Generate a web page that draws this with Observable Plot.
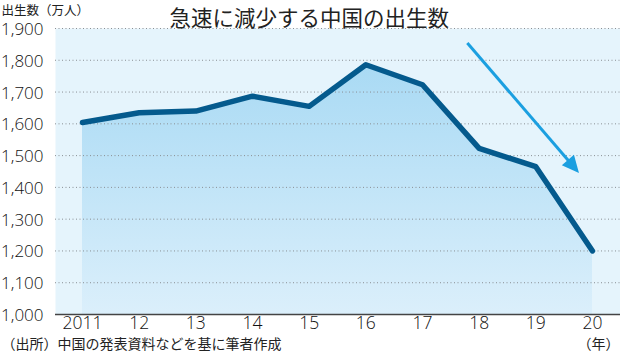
<!DOCTYPE html>
<html><head><meta charset="utf-8">
<script src="https://cdn.jsdelivr.net/npm/d3@7"></script>
<script src="https://cdn.jsdelivr.net/npm/@observablehq/plot@0.6"></script>
<style>body{margin:0;background:#fff}</style>
</head><body><div id="chart"></div>
<script>
const years = [2011, 2012, 2013, 2014, 2015, 2016, 2017, 2018, 2019, 2020];
const births = [1604, 1635, 1640, 1687, 1655, 1786, 1723, 1523, 1465, 1200];
const xTickLabels = ["2011", "12", "13", "14", "15", "16", "17", "18", "19", "20"];
const yTicks = [1000, 1100, 1200, 1300, 1400, 1500, 1600, 1700, 1800, 1900];
const arrowFrom = [2017.8, 1853];
const arrowTo = [2019.77, 1444];
const title = "急速に減少する中国の出生数";
const yUnit = "出生数（万人）";
const xUnit = "（年）";
const source = "（出所）中国の発表資料などを基に筆者作成";

const data = years.map((y, i) => ({year: y, value: births[i]}));
const jp = "'Noto Sans CJK JP', sans-serif";
const num = "'Open Sans', 'Liberation Sans', sans-serif";

function defsMark() {
  const svg = d3.create("svg:g");
  const g = svg.append("defs").append("linearGradient")
    .attr("id", "areaGrad").attr("x1", 0).attr("y1", 0).attr("x2", 0).attr("y2", 1);
  g.append("stop").attr("offset", "0%").attr("stop-color", "#a9daf4");
  g.append("stop").attr("offset", "100%").attr("stop-color", "#dbeffb");
  return svg.node();
}

function arrowMark(index, scales) {
  const x1 = scales.x(arrowFrom[0]), y1 = scales.y(arrowFrom[1]);
  const x2 = scales.x(arrowTo[0]), y2 = scales.y(arrowTo[1]);
  const dx = x2 - x1, dy = y2 - y1, L = Math.hypot(dx, dy);
  const ux = dx / L, uy = dy / L, px = -uy, py = ux;
  const hl = 17, hw = 8;
  const bx = x2 - ux * hl, by = y2 - uy * hl;
  const g = d3.create("svg:g");
  g.append("line").attr("x1", x1).attr("y1", y1).attr("x2", bx + ux * 2).attr("y2", by + uy * 2)
    .attr("stroke", "#1b9fe0").attr("stroke-width", 3);
  g.append("polygon")
    .attr("points", `${x2},${y2} ${bx + px * hw},${by + py * hw} ${bx - px * hw},${by - py * hw}`)
    .attr("fill", "#1b9fe0");
  return g.node();
}

const chart = Plot.plot({
  width: 620,
  height: 357,
  marginTop: 28,
  marginBottom: 43,
  marginLeft: 55,
  marginRight: 0,
  x: {domain: [2011, 2020], range: [82, 592], axis: null},
  y: {domain: [1000, 1900], axis: null},
  marks: [
    Plot.frame({fill: "#e5f4fc", stroke: null}),
    defsMark,
    Plot.areaY(data, {x: "year", y1: 1000, y2: "value", fill: "url(#areaGrad)"}),
    Plot.ruleY(yTicks.filter(d => d > 1000), {stroke: "#8a8f94", strokeWidth: 1, strokeDasharray: "1,2.5"}),
    Plot.ruleY([1000], {stroke: "#444", strokeWidth: 1.5}),
    Plot.line(data, {x: "year", y: "value", stroke: "#045a8d", strokeWidth: 5.5, strokeLinecap: "round", strokeLinejoin: "round"}),
    arrowMark,
    Plot.text(yTicks, {y: d => d, frameAnchor: "left", dx: -12, dy: 1, textAnchor: "end", text: d => d3.format(",")(d), fontSize: 17, fontWeight: 300, fontFamily: num, fill: "#111"}),
    Plot.text(years, {x: d => d, frameAnchor: "bottom", dy: 14, text: (d, i) => xTickLabels[i], fontSize: 17.5, fontWeight: 300, fontFamily: num, fill: "#111"}),
    Plot.text([title], {frameAnchor: "top-left", textAnchor: "start", dx: 114, dy: -18, fontSize: 21.5, fontFamily: jp, fill: "#222"}),
    Plot.text([yUnit], {frameAnchor: "top-left", textAnchor: "start", dx: -54, dy: -22, fontSize: 12.5, fontFamily: jp, fill: "#222"}),
    Plot.text([source], {frameAnchor: "bottom-left", textAnchor: "start", dx: -54, dy: 34, fontSize: 14, fontFamily: jp, fill: "#222"}),
    Plot.text([xUnit], {frameAnchor: "bottom-right", textAnchor: "end", dx: -1, dy: 34, fontSize: 14, fontFamily: jp, fill: "#222"})
  ]
});
document.getElementById("chart").appendChild(chart);
</script>
</body></html>
